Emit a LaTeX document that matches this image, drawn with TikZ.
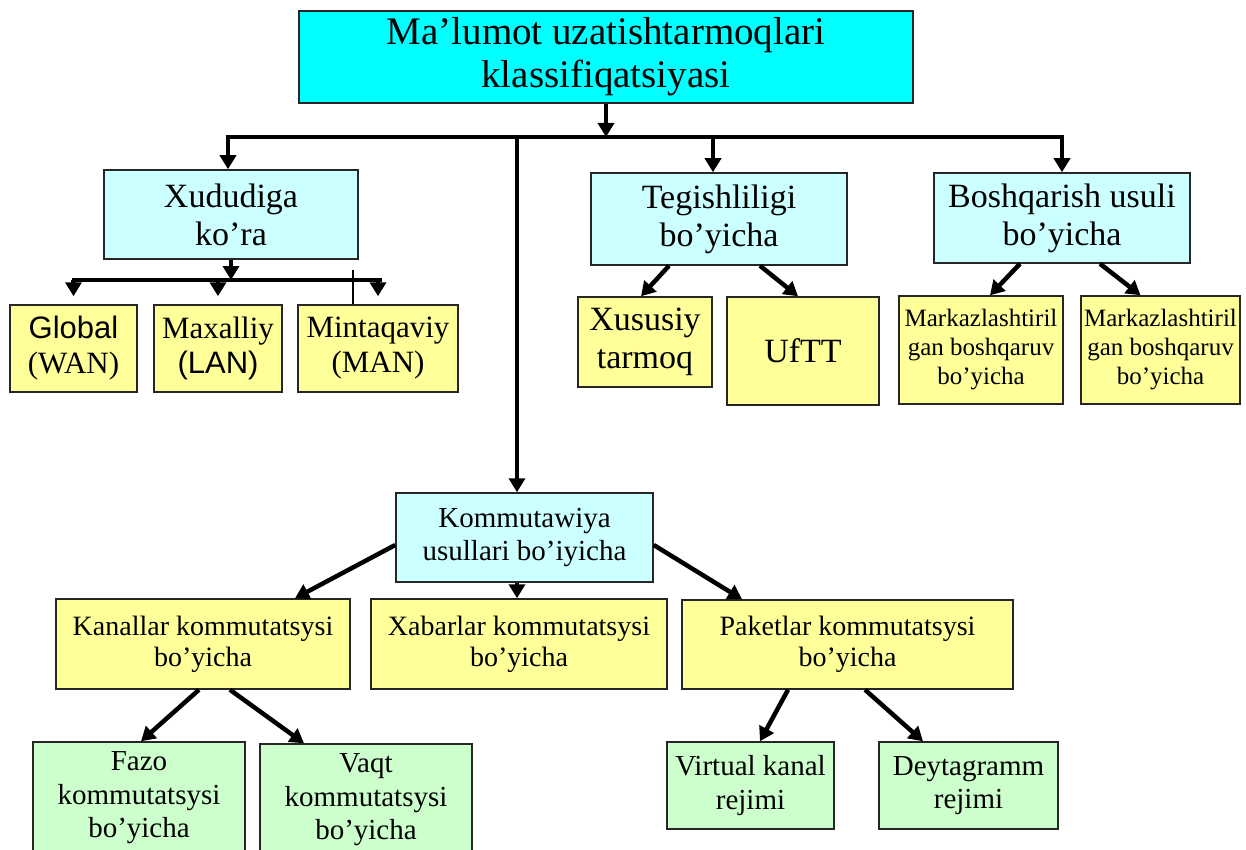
\documentclass[tikz,border=0pt]{standalone}
\usepackage{fontspec}
\setmainfont{Liberation Serif}
\newfontfamily\arialf{Liberation Sans}
\usetikzlibrary{arrows.meta}
\definecolor{topcyan}{RGB}{0,255,255}
\definecolor{lcyan}{RGB}{204,255,255}
\definecolor{lyellow}{RGB}{255,255,153}
\definecolor{lgreen}{RGB}{204,255,204}
\tikzset{
  box/.style={draw=black!85, line width=1.5pt, rectangle, align=center, inner sep=0pt},
  cbox/.style={box, fill=topcyan},
  lcbox/.style={box, fill=lcyan},
  ybox/.style={box, fill=lyellow},
  gbox/.style={box, fill=lgreen},
  conn/.style={line width=4.5pt, draw=black},
  arr/.style={conn, -{Triangle[width=16pt,length=14pt]}},
  fA/.style={font={\fontsize{39}{43}\selectfont}},
  fB/.style={font={\fontsize{34}{38}\selectfont}},
  fC/.style={font={\fontsize{31}{35}\selectfont}},
  fD/.style={font={\fontsize{29}{33.5}\selectfont}},
  fE/.style={font={\fontsize{28}{31}\selectfont}},
  fF/.style={font={\fontsize{25}{29}\selectfont}},
}
\begin{document}
\begin{tikzpicture}[x=1pt,y=-1pt]
\useasboundingbox (0,0) rectangle (1246,850);
\clip (0,0) rectangle (1246,850);

% top
\node[cbox, fA, minimum width=614pt, minimum height=92pt] (top) at (606,57) {Ma’lumot uzatishtarmoqlari\\klassifiqatsiyasi};

% level 1
\node[lcbox, fB, minimum width=254pt, minimum height=89pt] (xud) at (231,214.5) {Xududiga\\ko’ra};
\node[lcbox, fB, minimum width=256pt, minimum height=92pt] (teg) at (719,219) {Tegishliligi\\bo’yicha};
\node[lcbox, fB, minimum width=256pt, minimum height=90pt] (bosh) at (1062,218) {Boshqarish usuli\\bo’yicha};
\node[lcbox, fD, minimum width=257pt, minimum height=89pt] (kom) at (524.5,537.5) {Kommutawiya\\usullari bo’iyicha};

% Xududiga children
\node[ybox, fC, minimum width=127pt, minimum height=87pt] (glob) at (73.5,348.5) {{\arialf Global}\\(WAN)};
\node[ybox, fC, minimum width=128pt, minimum height=87pt] (maxa) at (218,348.5) {Maxalliy\\{\arialf (LAN)}};
\node[ybox, fC, minimum width=160pt, minimum height=87pt] (mint) at (378,348.5) {Mintaqaviy\\(MAN)};

% Tegishliligi children
\node[ybox, fB, minimum width=134pt, minimum height=90pt] (xus) at (645,342) {Xususiy\\tarmoq};
\node[ybox, fB, minimum width=152pt, minimum height=108pt] (uftt) at (803,351) {UfTT};

% Boshqarish children
\node[ybox, fF, minimum width=164pt, minimum height=108pt] (mk1) at (981,350) {Markazlashtiril\\gan boshqaruv\\bo’yicha};
\node[ybox, fF, minimum width=159pt, minimum height=108pt] (mk2) at (1160.5,350) {Markazlashtiril\\gan boshqaruv\\bo’yicha};

% Kommutatsiya children
\node[ybox, fE, minimum width=294pt, minimum height=90pt] (kan) at (203,644) {Kanallar kommutatsysi\\bo’yicha};
\node[ybox, fE, minimum width=296pt, minimum height=90pt] (xab) at (519,644) {Xabarlar kommutatsysi\\bo’yicha};
\node[ybox, fE, minimum width=331pt, minimum height=89pt] (pak) at (847.5,644.5) {Paketlar kommutatsysi\\bo’yicha};

% level 3
\node[gbox, fD, minimum width=212pt, minimum height=112pt] (fazo) at (139,798) {Fazo\\kommutatsysi\\bo’yicha};
\node[gbox, fD, minimum width=212pt, minimum height=112pt] (vaqt) at (366,800) {Vaqt\\kommutatsysi\\bo’yicha};
\node[gbox, fD, minimum width=167pt, minimum height=87pt] (virt) at (750.5,785.5) {Virtual kanal\\rejimi};
\node[gbox, fD, minimum width=179pt, minimum height=87pt] (deyt) at (968.5,785.5) {Deytagramm\\rejimi};

% main bus
\coordinate (busL) at (228,137);
\coordinate (busR) at (1062,137);
\coordinate (busT) at (713,137);
\coordinate (busK) at (517,137);
\draw[arr] (top.south) -- (top.south |- busL);
\draw[conn, line cap=rect] (busL) -- (busR);
\draw[arr] (busL) -- (busL |- xud.north);
\draw[arr] (busT) -- (busT |- teg.north);
\draw[arr] (busR) -- (busR |- bosh.north);
\draw[arr] (busK) -- (busK |- kom.north);

% Xududiga sub-bus
\coordinate (sbL) at (72,280);
\coordinate (sbR) at (382,280);
\draw[arr] (xud.south) -- (xud.south |- sbL);
\draw[conn] (sbL) -- (sbR);
\draw[arr, shorten >=8pt] (glob.north |- sbL) -- (glob.north);
\draw[arr, shorten >=8pt] (maxa.north |- sbL) -- (maxa.north);
\draw[arr, shorten >=8pt] (mint.north |- sbL) -- (mint.north);
\coordinate (m0) at (353,270);
\draw[line width=2.5pt] (m0) -- (m0 |- mint.north);

% Tegishliligi arrows
\draw[arr] ([xshift=-50pt]teg.south) -- ([xshift=-4pt]xus.north);
\draw[arr] ([xshift=41pt]teg.south) -- ([xshift=-5pt]uftt.north);

% Boshqarish arrows
\draw[arr] ([xshift=-42pt]bosh.south) -- ([xshift=9pt]mk1.north);
\draw[arr] ([xshift=38pt]bosh.south) -- ([xshift=-20pt]mk2.north);

% Kommutatsiya arrows
\draw[arr] ([yshift=-7.5pt]kom.west) -- ([xshift=92pt]kan.north);
\draw[arr] ([xshift=-7.5pt]kom.south) -- ([xshift=-7.5pt]kom.south |- xab.north);
\draw[arr] ([yshift=-7.5pt]kom.east) -- ([xshift=-105.5pt]pak.north);

% Kanallar arrows
\draw[arr] ([xshift=-4pt]kan.south) -- ([xshift=2pt]fazo.north);
\draw[arr] ([xshift=27pt]kan.south) -- ([xshift=-62pt]vaqt.north);

% Paketlar arrows
\draw[arr] ([xshift=-59.5pt]pak.south) -- ([xshift=9.5pt]virt.north);
\draw[arr] ([xshift=17.5pt]pak.south) -- ([xshift=-45.5pt]deyt.north);
\end{tikzpicture}
\end{document}
